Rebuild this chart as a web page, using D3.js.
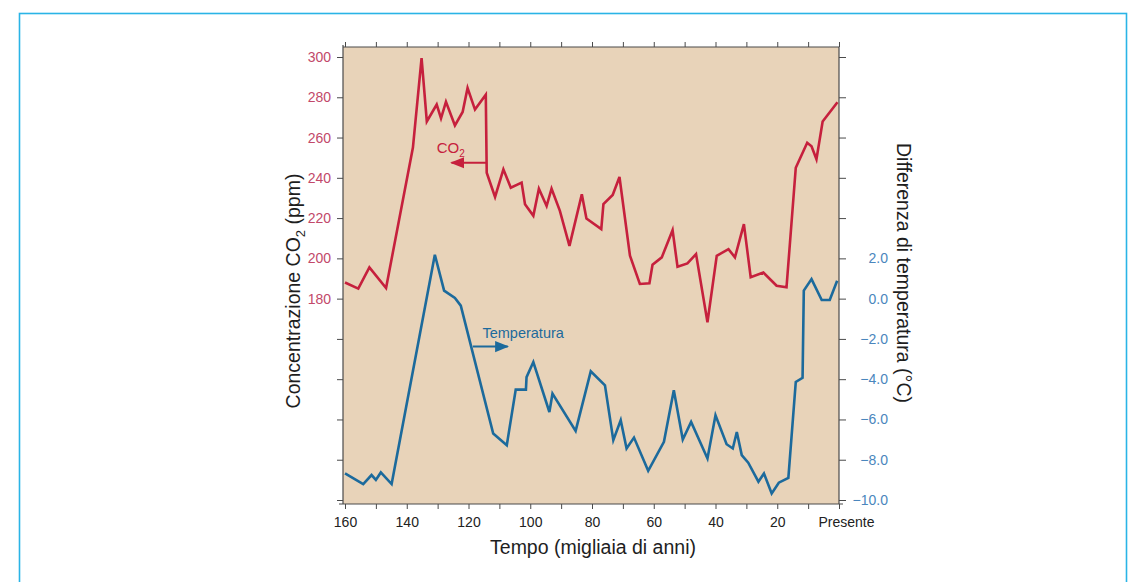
<!DOCTYPE html>
<html>
<head>
<meta charset="utf-8">
<script src="https://cdn.jsdelivr.net/npm/d3@7"></script>
<style>
  body { margin: 0; background: #fff; }
  svg { display: block; font-family: "Liberation Sans", Arial, Helvetica, sans-serif; }
</style>
</head>
<body>
<svg id="chart" width="1139" height="582"></svg>
<script>
// ---- data (age in thousands of years before present) ----
const co2Age = [160,155.7,152.1,146.7,138,135.2,133.5,130.3,128.9,127.3,124.4,121.9,120.3,117.9,114.4,114.1,111.4,108.7,106.3,102.8,101.7,99,97.2,94.7,93.1,90.4,87.3,83.3,81.8,77,76.3,73.3,71.1,67.7,64.5,61.4,60.4,57.4,53.9,52.3,49.1,46.3,42.6,39.6,35.8,33.7,30.8,28.6,24.5,20.2,17,14,10.3,8.9,7.3,5.3,0.5];
const co2Val = [188,185,195.5,185.3,255,299.5,268,276.4,269.5,277.7,266,272.7,284.6,273.9,281.3,242.5,230.5,244.2,235.1,237.6,226.9,221.1,234.6,226,234.6,223.6,206.2,231.8,219.8,214.5,226.9,231.5,240.4,201.3,187.3,187.6,196.8,200.5,214,195.8,197.5,202.1,168.3,201.3,204.6,200.5,217,190.6,193,186.4,185.6,245,257.4,255.7,249.2,268,277.5];

const tempAge = [160,154.1,151.4,150,148.4,144.9,130.9,127.9,124.4,122.5,112,107.6,104.7,101.4,101.2,99,93.8,92.8,85.3,80.4,75.8,73.1,70.7,68.8,66.4,61.8,56.7,53.5,50.6,47.9,42.6,40,36.4,34.4,33.1,31.5,29.4,26.1,24.3,21.8,19.5,16.4,14,11.8,11.4,8.9,5.6,3,0.6];
const tempVal = [-8.68,-9.21,-8.76,-9.0,-8.63,-9.21,2.18,0.40,0.03,-0.35,-6.70,-7.28,-4.52,-4.52,-3.9,-3.15,-5.63,-4.72,-6.57,-3.61,-4.31,-7.03,-6.04,-7.44,-6.9,-8.55,-7.11,-4.55,-7.0,-6.12,-7.94,-5.79,-7.23,-7.44,-6.62,-7.77,-8.15,-9.09,-8.68,-9.67,-9.14,-8.9,-4.14,-3.93,0.4,0.97,-0.07,-0.07,0.89];

const xTicks = [160,150,140,130,120,110,100,90,80,70,60,50,40,30,20,10,0];
const xTickLabels = {160:"160",140:"140",120:"120",100:"100",80:"80",60:"60",40:"40",20:"20",0:"Presente"};
const co2Ticks = [80,100,120,140,160,180,200,220,240,260,280,300];
const co2Labelled = [180,200,220,240,260,280,300];
const tempTicks = [-10,-8,-6,-4,-2,0,2,4,6,8,10,12];
const tempLabelled = [-10,-8,-6,-4,-2,0,2];

// ---- layout ----
const svg = d3.select("#chart");
const L = 343, R = 839, T = 47, B = 504;
const red = "#c6203d", blue = "#1c6a9c";
const redText = "#c2486a", blueText = "#4a86bd";

svg.append("rect").attr("x", 0).attr("y", 0).attr("width", 1139).attr("height", 582).attr("fill", "#fff");
svg.append("rect").attr("x", 19.5).attr("y", 13.5).attr("width", 1107).attr("height", 620)
  .attr("fill", "none").attr("stroke", "#2ab4e6").attr("stroke-width", 1.6);

const x = d3.scaleLinear().domain([160, 0]).range([345, 839]);
const yC = d3.scaleLinear().domain([80, 300]).range([500, 57]);
const yT = d3.scaleLinear().domain([-10, 12]).range([500, 57]);

// plot background
svg.append("rect").attr("x", L).attr("y", T).attr("width", R - L).attr("height", B - T)
  .attr("fill", "#e8d3b9");

svg.append("clipPath").attr("id", "clip").append("rect")
  .attr("x", L).attr("y", T).attr("width", R - L).attr("height", B - T);

const co2Data = co2Age.map((a, i) => [a, co2Val[i]]);
const tempData = tempAge.map((a, i) => [a, tempVal[i]]);

const g = svg.append("g").attr("clip-path", "url(#clip)");
g.append("path").datum(co2Data)
  .attr("d", d3.line().x(d => x(d[0])).y(d => yC(d[1])))
  .attr("fill", "none").attr("stroke", red).attr("stroke-width", 2.6).attr("stroke-linejoin", "miter");
g.append("path").datum(tempData)
  .attr("d", d3.line().x(d => x(d[0])).y(d => yT(d[1])))
  .attr("fill", "none").attr("stroke", blue).attr("stroke-width", 2.6).attr("stroke-linejoin", "miter");

// axes
const axisColor = "#4a4a4a";
const tickFont = 14;
function styleAxis(sel) {
  sel.selectAll(".domain").attr("stroke", axisColor).attr("stroke-width", 1.2);
  sel.selectAll(".tick line").attr("stroke", axisColor).attr("stroke-width", 1);
}

const leftAxis = svg.append("g").attr("transform", `translate(${L},0)`)
  .call(d3.axisLeft(yC).tickValues(co2Ticks).tickSize(6).tickSizeOuter(0).tickPadding(6)
    .tickFormat(d => co2Labelled.includes(d) ? d : ""));
styleAxis(leftAxis);
leftAxis.select(".domain").attr("d", `M0,${T - 2}V${B}`);
leftAxis.selectAll("text").attr("fill", redText).attr("font-size", tickFont).attr("font-family", "Liberation Sans, Arial, sans-serif");

const rightAxis = svg.append("g").attr("transform", `translate(${R},0)`)
  .call(d3.axisRight(yT).tickValues(tempTicks).tickSize(7).tickSizeOuter(0).tickPadding(6)
    .tickFormat(d => tempLabelled.includes(d) ? (d < 0 ? "\u2212" + d3.format(".1f")(-d) : d3.format(".1f")(d)) : ""));
styleAxis(rightAxis);
rightAxis.select(".domain").attr("d", `M0,${T}V${B}`);
rightAxis.selectAll("text").attr("fill", blueText).attr("font-size", tickFont)
  .attr("text-anchor", "end").attr("x", 49).attr("font-family", "Liberation Sans, Arial, sans-serif");

const bottomAxis = svg.append("g").attr("transform", `translate(0,${B})`)
  .call(d3.axisBottom(x).tickValues(xTicks).tickSize(5).tickSizeOuter(0).tickPadding(8)
    .tickFormat(d => xTickLabels[d] !== undefined ? xTickLabels[d] : ""));
styleAxis(bottomAxis);
bottomAxis.select(".domain").attr("d", `M${L - 4},0H${R + 4}`);
bottomAxis.selectAll("text").attr("fill", "#222").attr("font-size", tickFont).attr("font-family", "Liberation Sans, Arial, sans-serif");
bottomAxis.selectAll(".tick").filter(d => d === 0).select("text").attr("dx", 7);

const topAxis = svg.append("g").attr("transform", `translate(0,${T})`)
  .call(d3.axisTop(x).tickValues(xTicks).tickSize(5).tickSizeOuter(0).tickFormat(""));
styleAxis(topAxis);
topAxis.select(".domain").attr("d", `M${L},0H${R}`);

// axis titles
const titleFont = 19.5;
const lt = svg.append("text").attr("transform", "translate(300,291) rotate(-90)")
  .attr("text-anchor", "middle").attr("font-size", titleFont).attr("fill", "#1e1e1e");
lt.append("tspan").text("Concentrazione  CO");
lt.append("tspan").attr("font-size", 13).attr("dy", 5).text("2");
lt.append("tspan").attr("dy", -5).text(" (ppm)");

svg.append("text").attr("transform", "translate(897,273) rotate(90)")
  .attr("text-anchor", "middle").attr("font-size", titleFont).attr("fill", "#1e1e1e")
  .text("Differenza di temperatura (°C)");

svg.append("text").attr("x", 593).attr("y", 554).attr("text-anchor", "middle")
  .attr("font-size", titleFont).attr("fill", "#1e1e1e").text("Tempo (migliaia di anni)");

// annotations
svg.append("defs").html(`
  <marker id="arrRed" viewBox="0 0 10 10" refX="9" refY="5" markerWidth="7" markerHeight="7" orient="auto">
    <path d="M0,1 L10,5 L0,9 z" fill="${red}"/></marker>
  <marker id="arrBlue" viewBox="0 0 10 10" refX="9" refY="5" markerWidth="7" markerHeight="7" orient="auto">
    <path d="M0,1 L10,5 L0,9 z" fill="${blue}"/></marker>`);

const co2Label = svg.append("text").attr("x", x(130.3)).attr("y", yC(252.5)).attr("font-size", 15).attr("fill", red);
co2Label.append("tspan").text("CO");
co2Label.append("tspan").attr("font-size", 10).attr("dy", 4).text("2");

svg.append("line").attr("x1", x(114.3)).attr("x2", x(125.5)).attr("y1", yC(247.5)).attr("y2", yC(247.5))
  .attr("stroke", red).attr("stroke-width", 2).attr("marker-end", "url(#arrRed)");

svg.append("text").attr("x", x(102.3)).attr("y", yT(-1.95)).attr("text-anchor", "middle")
  .attr("font-size", 14.5).attr("fill", blue).text("Temperatura");
svg.append("line").attr("x1", x(118.6)).attr("x2", x(107.3)).attr("y1", yT(-2.38)).attr("y2", yT(-2.38))
  .attr("stroke", blue).attr("stroke-width", 2).attr("marker-end", "url(#arrBlue)");
</script>
</body>
</html>
